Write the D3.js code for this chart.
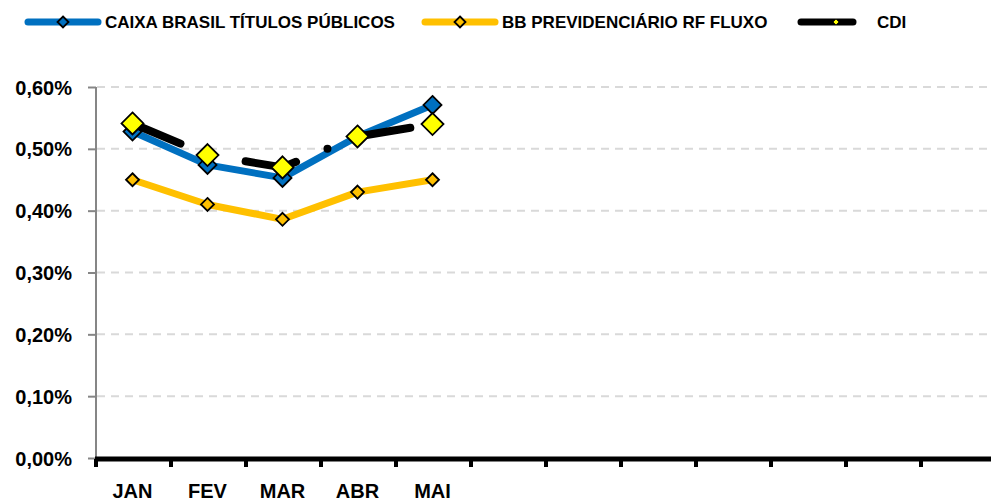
<!DOCTYPE html>
<html>
<head>
<meta charset="utf-8">
<script src="https://cdn.jsdelivr.net/npm/d3@7"></script>
<style>
  body { margin: 0; background: #fff; }
  text { font-family: "Liberation Sans", Arial, sans-serif; font-weight: bold; fill: #000; }
</style>
</head>
<body>
<div id="chart"></div>
<script>
var months = ["JAN", "FEV", "MAR", "ABR", "MAI", "JUN", "JUL", "AGO", "SET", "OUT", "NOV", "DEZ"];
var caixa = [0.528, 0.474, 0.453, 0.520, 0.571];
var bb = [0.450, 0.410, 0.386, 0.430, 0.450];
var cdi = [0.541, 0.490, 0.470, 0.520, 0.540];
var yTicks = [0, 0.1, 0.2, 0.3, 0.4, 0.5, 0.6];
var seriesNames = ["CAIXA BRASIL TÍTULOS PÚBLICOS", "BB PREVIDENCIÁRIO RF FLUXO", "CDI"];

var width = 991, height = 504;
var svg = d3.select("#chart").append("svg")
  .attr("width", width)
  .attr("height", height);

var x = d3.scaleBand().domain(months).range([95, 995]);
var y = d3.scaleLinear().domain([0, 0.6]).range([458, 87]);
var fmt = d => d.toFixed(2).replace(".", ",") + "%";

// gridlines
svg.append("g").selectAll("line")
  .data(yTicks.slice(1))
  .enter().append("line")
  .attr("x1", 97).attr("x2", width)
  .attr("y1", d => y(d)).attr("y2", d => y(d))
  .attr("stroke", "#d9d9d9")
  .attr("stroke-width", 2)
  .attr("stroke-dasharray", "8,6");

// y axis
var yAxis = svg.append("g")
  .attr("transform", "translate(96,0)")
  .call(d3.axisLeft(y).tickValues(yTicks).tickFormat(fmt).tickSize(8).tickPadding(16));
yAxis.select(".domain").attr("stroke", "#868686").attr("stroke-width", 2).attr("d", "M0,87V459");
yAxis.selectAll(".tick line").attr("stroke", "#868686").attr("stroke-width", 2);
yAxis.selectAll("text").attr("font-size", 20).attr("font-family", null).attr("dy", "0.35em");

// x axis
var xAxis = svg.append("g")
  .attr("transform", "translate(0,459)")
  .call(d3.axisBottom(x).tickSize(0).tickPadding(25)
    .tickFormat((d, i) => i < caixa.length ? d : ""));
xAxis.select(".domain").attr("stroke", "#000").attr("stroke-width", 5).attr("d", "M95,0H" + width);
xAxis.selectAll("text").attr("font-size", 20).attr("font-family", null);
xAxis.selectAll(".boundary")
  .data(d3.range(months.length + 1))
  .enter().append("line")
  .attr("class", "boundary")
  .attr("x1", i => 96 + i * x.step()).attr("x2", i => 96 + i * x.step())
  .attr("y1", 0).attr("y2", 8)
  .attr("stroke", "#000").attr("stroke-width", 4);

var line = d3.line()
  .x((d, i) => x(months[i]) + x.bandwidth() / 2)
  .y(d => y(d));

var diamond = (s) => "M0," + (-s) + "L" + s + ",0L0," + s + "L" + (-s) + ",0Z";

var series = [
  { values: caixa, color: "#0070C0", width: 7, dash: null, fill: "#0070C0", size: 9, lsize: 5.5, lcolor: "#0070C0" },
  { values: bb, color: "#FFC000", width: 7, dash: null, fill: "#FFC000", size: 6.5, lsize: 5.5, lcolor: "#FFC000" },
  { values: cdi, color: "#000000", width: 8, dash: "52,34,0,34", fill: "#FFFF00", size: 11, lsize: 3, lcolor: "#FFFF00" }
];

series.forEach(function (s) {
  svg.append("path")
    .datum(s.values)
    .attr("d", line)
    .attr("fill", "none")
    .attr("stroke", s.color)
    .attr("stroke-width", s.width)
    .attr("stroke-linecap", "round")
    .attr("stroke-linejoin", "round")
    .attr("stroke-dasharray", s.dash);
  svg.append("g").selectAll("path")
    .data(s.values)
    .enter().append("path")
    .attr("transform", (d, i) => "translate(" + (x(months[i]) + x.bandwidth() / 2) + "," + y(d) + ")")
    .attr("d", diamond(s.size))
    .attr("fill", s.fill)
    .attr("stroke", "#000")
    .attr("stroke-width", 1.8);
});

// legend
var legendX = [[28, 98, 105], [425, 495, 502], [801, 871, 877]];
series.forEach(function (s, i) {
  var lx = legendX[i];
  var g = svg.append("g");
  g.append("line")
    .attr("x1", lx[0]).attr("x2", lx[1])
    .attr("y1", 22).attr("y2", 22)
    .attr("stroke", s.color)
    .attr("stroke-width", 7)
    .attr("stroke-linecap", "round")
    .attr("stroke-dasharray", s.dash);
  g.append("path")
    .attr("transform", "translate(" + (lx[0] + lx[1]) / 2 + ",22)")
    .attr("d", diamond(s.lsize))
    .attr("fill", s.lcolor)
    .attr("stroke", "#000")
    .attr("stroke-width", i === 2 ? 0.8 : 1.8);
  g.append("text")
    .attr("x", lx[2]).attr("y", 28)
    .attr("font-size", 17)
    .text(seriesNames[i]);
});
</script>
</body>
</html>
